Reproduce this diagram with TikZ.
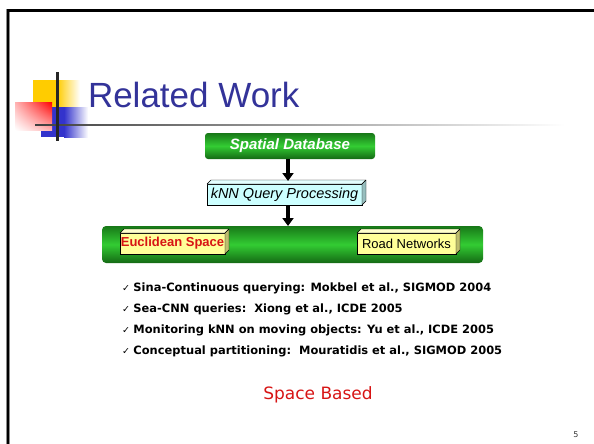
\documentclass[tikz,border=0pt]{standalone}
\usepackage{fontspec}
\setmainfont{Liberation Sans}
\newfontfamily\verd{DejaVu Sans}
\usetikzlibrary{arrows.meta,calc,shadings}

\definecolor{titleblue}{RGB}{51,51,153}
\definecolor{gdark}{RGB}{24,120,24}
\definecolor{gdarkb}{RGB}{20,105,20}
\definecolor{glight}{RGB}{51,204,51}
\definecolor{cyanface}{RGB}{204,255,255}
\definecolor{cyantop}{RGB}{228,255,255}
\definecolor{cyanside}{RGB}{150,190,190}
\definecolor{yelface}{RGB}{255,255,153}
\definecolor{yeltop}{RGB}{255,255,204}
\definecolor{yelside}{RGB}{190,190,110}
\definecolor{logoyellow}{RGB}{255,204,0}
\definecolor{logoblue}{RGB}{51,51,204}
\definecolor{labelred}{RGB}{215,20,20}

% top and side faces of a raised box
\newcommand\raisedfaces[3]{%
  \filldraw[fill=#2, line width=0.4pt, line join=round]
    (#1.north west) -- ([shift={(4,-4)}]#1.north west)
    -- ([shift={(4,-4)}]#1.north east) -- (#1.north east) -- cycle;
  \filldraw[fill=#3, line width=0.4pt, line join=round]
    (#1.north east) -- ([shift={(4,-4)}]#1.north east)
    -- ([shift={(4,-4)}]#1.south east) -- (#1.south east) -- cycle;
}
% small check mark in front of each reference
\newcommand\tickmark{{\verd\mdseries\fontsize{9.5}{10}\selectfont ✓}\hspace{3.5pt}}

\begin{document}
\begin{tikzpicture}[x=1pt,y=-1pt,
  every node/.style={inner sep=0pt, outer sep=0pt},
  greenbox/.style={rounded corners=3pt, top color=gdark, bottom color=gdarkb,
    middle color=glight},
  raised/.style={draw, line width=0.4pt, minimum height=21pt},
  bigarrow/.style={line width=3.5pt, -{Triangle[width=11pt,length=8pt]}},
  bullet/.style={anchor=base west, font=\verd\bfseries\fontsize{11.45}{13}\selectfont}]

\useasboundingbox (0,0) rectangle (594,444);

% slide frame
\draw[line width=3.4pt, black!45] (8,444) -- (8,10.5) -- (594,10.5);
\draw[line width=2.2pt] (8,444) -- (8,10.5) -- (594,10.5);

% title logo squares
\fill[logoyellow] (33,80) rectangle (57,107);
\shade[left color=logoyellow, right color=white] (57,80) rectangle (80,107);
\fill[logoblue] (41,107) rectangle (64,137);
\shade[left color=logoblue, right color=white] (64,107) rectangle (88,137);
\shade[upper right=red, upper left=red!30, lower right=red!30, lower left=white]
  (15,102) rectangle (52,130);
\shade[left color=black!75, right color=white] (35,124.2) rectangle (565,125.9);
\fill[black!85] (56,72) rectangle (58.5,141);

% title
\node[anchor=base west, text=titleblue, font=\fontsize{35}{40}\selectfont]
  (title) at (88,107) {Related Work};

% diagram boxes
\node[greenbox, minimum width=170pt, minimum height=26pt,
  font=\bfseries\itshape\fontsize{15}{17}\selectfont, text=white]
  (sd) at (290,146) {Spatial Database};

\node[raised, fill=cyanface, minimum width=155pt,
  font=\itshape\fontsize{14.5}{16}\selectfont] (knn) at (284.5,194.5)
  {kNN Query Processing};
\raisedfaces{knn}{cyantop}{cyanside}

\node[greenbox, rounded corners=4pt, minimum width=381pt, minimum height=37pt]
  (bar) at (292.5,244.5) {};

\node[raised, fill=yelface, minimum width=105pt, text=labelred,
  font=\bfseries\fontsize{13}{15}\selectfont] (eu) at (172.5,243.5)
  {Euclidean Space};
\raisedfaces{eu}{yeltop}{yelside}

\node[raised, fill=yelface, minimum width=99pt,
  font=\fontsize{13}{15}\selectfont] (rn) at (406.5,243.5)
  {Road Networks};
\raisedfaces{rn}{yeltop}{yelside}

% flow arrows
\draw[bigarrow] ([xshift=-2pt]sd.south) -- ([xshift=3.5pt,yshift=3pt]knn.north);
\draw[bigarrow] ([xshift=3.5pt]knn.south) -- ([xshift=-4.5pt]bar.north);

% references
\node[bullet] (r1) at (122,291) {\tickmark Sina-Continuous querying: Mokbel et al., SIGMOD 2004};
\node[bullet] (r2) at (122,312) {\tickmark Sea-CNN queries:\ \ Xiong et al., ICDE 2005};
\node[bullet] (r3) at (122,333) {\tickmark Monitoring kNN on moving objects: Yu et al., ICDE 2005};
\node[bullet] (r4) at (122,354) {\tickmark Conceptual partitioning:\ \ Mouratidis et al., SIGMOD 2005};

\node[anchor=base, text=labelred, font=\verd\fontsize{17}{20}\selectfont]
  (sb) at (318,399) {Space Based};

\node[anchor=base, text=black!80, font=\verd\fontsize{8}{9}\selectfont]
  (pg) at (576,437) {5};
\end{tikzpicture}
\end{document}
